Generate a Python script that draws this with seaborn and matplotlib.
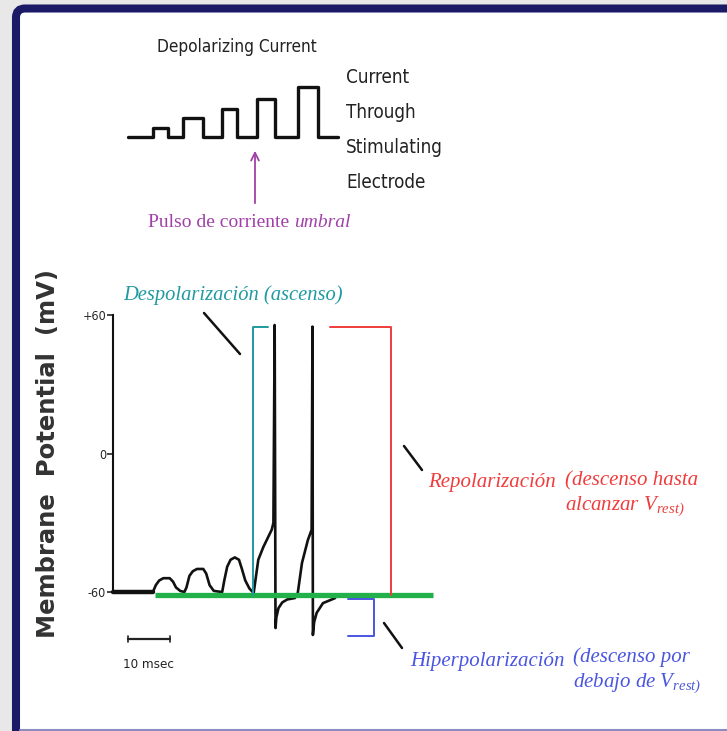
import numpy as np
import pandas as pd
import matplotlib
matplotlib.use("Agg")
import matplotlib.pyplot as plt
from matplotlib.patches import FancyBboxPatch
import seaborn as sns

# membrane potential recording (time in msec, potential in mV)
trace_t = [0, 9.5, 10.2, 11.0, 12.0, 13.5, 14.3, 15.0, 16.0, 17.0,
           17.5, 18.2, 19.0, 20.0, 21.5, 22.2, 23.0, 24.0, 26.0,
           26.5, 27.2, 28.0, 29.0, 30.0, 30.7, 31.5, 32.5, 33.5,
           34.6, 35.8, 37.8, 38.2, 38.5, 38.7, 38.9, 39.4, 40.3, 41.5, 43.3,
           44.0, 45.0, 46.4, 47.3, 47.5, 47.6, 47.9, 48.5, 50.0, 52.9]
trace_mv = [-60, -60, -57, -55, -54, -54, -55.5, -58, -59.5, -60,
            -58, -53, -51, -50, -50, -52, -57, -59.5, -60,
            -55, -49, -46, -45, -46, -50, -55, -58.5, -60.4,
            -46, -40.5, -33, -30, 55.7, -75.6, -71, -67, -64.5, -63.2, -62.6,
            -60.4, -47.4, -37.5, -33, 55, -78.6, -73, -69, -64.8, -62.6]

# stimulating current pulses (msec, arbitrary units)
pulse_start = [9.5, 16.7, 26.0, 34.3, 44.0]
pulse_end = [13.1, 21.4, 29.5, 38.6, 48.8]
pulse_amp = [0.95, 1.95, 2.85, 3.85, 5.0]
stim_span = [3.6, 53.6]

# annotations in data units
rest_mv = -61.3
rest_span = [10.0, 76.2]
bracket_top = 54.8
depol_t = [33.3, 36.9]
repol_t = [51.7, 66.2]
hyper_t = [56.0, 62.1]
hyper_mv = [-63.0, -79.0]
scale_t = [3.6, 13.6]
scale_mv = -80.4

yticks = [-60, 0, 60]
ytick_labels = ["-60", "0", "+60"]

W, H = 727, 731
sns.set_style("white")
plt.rcParams["font.family"] = ["DejaVu Sans"]
plt.rcParams["mathtext.fontset"] = "custom"
plt.rcParams["mathtext.rm"] = "Liberation Serif:italic"
plt.rcParams["mathtext.it"] = "Liberation Serif:italic"

fig = plt.figure(figsize=(W / 100, H / 100), dpi=100)
fig.patch.set_facecolor("#e8e8e8")

# background / frame, pixel coordinates
bg = fig.add_axes([0, 0, 1, 1])
bg.set_xlim(0, W)
bg.set_ylim(H, 0)
bg.axis("off")
frame = FancyBboxPatch((16, 8.5), 800, 800, boxstyle="round,pad=0,rounding_size=9",
                       fc="white", ec="#1b1a66", lw=5.8)
bg.add_patch(frame)
bg.plot([20, W], [730, 730], color="#8c8cc0", lw=1.5)

# stimulus axes
cur = fig.add_axes([0, 0, 1, 1])
cur.set_xlim(-26.9, 146.2)
cur.set_ylim(-59.4, 13.7)
cur.axis("off")
st_t = [stim_span[0]]
st_a = [0]
for a, b, amp in zip(pulse_start, pulse_end, pulse_amp):
    st_t += [a, a, b, b]
    st_a += [0, amp, amp, 0]
st_t.append(stim_span[1])
st_a.append(0)
stim = pd.DataFrame({"t": st_t, "amp": st_a})
sns.lineplot(data=stim, x="t", y="amp", sort=False, estimator=None,
             color="#111111", lw=2.4, ax=cur)

# membrane potential axes
ax = fig.add_axes([0, 0, 1, 1])
ax.patch.set_alpha(0)
ax.set_xlim(-26.9, 146.2)
ax.set_ylim(-120.2, 196.5)
mem = pd.DataFrame({"t": trace_t, "mv": trace_mv})
sns.lineplot(data=mem, x="t", y="mv", sort=False, estimator=None,
             color="#111111", lw=1.9, ax=ax)
base = mem[mem["t"] <= 9.5]
sns.lineplot(data=base, x="t", y="mv", sort=False, estimator=None,
             color="#111111", lw=3.2, ax=ax)

for s in ["top", "right", "bottom"]:
    ax.spines[s].set_visible(False)
ax.spines["left"].set_position(("data", 0))
ax.spines["left"].set_bounds(-60, 60)
ax.spines["left"].set_linewidth(1.5)
ax.spines["left"].set_color("#111111")
ax.set_xticks([])
ax.set_yticks(yticks)
ax.set_yticklabels(ytick_labels, fontsize=9, fontstretch="condensed")
ax.tick_params(axis="y", direction="out", length=4, width=1.2, pad=1, left=True)
ax.set_xlabel("")
ax.set_ylabel("")

# resting line and brackets
ax.plot(rest_span, [rest_mv, rest_mv], color="#22b04a", lw=3.8, solid_capstyle="butt")
teal = "#1f9aa0"
red = "#f03c3c"
blue = "#4a55e0"
ax.plot([depol_t[1], depol_t[0], depol_t[0]], [bracket_top, bracket_top, rest_mv],
        color=teal, lw=1.4)
ax.plot([repol_t[0], repol_t[1], repol_t[1]], [bracket_top, bracket_top, rest_mv],
        color=red, lw=1.4)
ax.plot([hyper_t[0], hyper_t[1], hyper_t[1], hyper_t[0]],
        [hyper_mv[0], hyper_mv[0], hyper_mv[1], hyper_mv[1]], color=blue, lw=1.4)

# 10 msec scale bar
ax.plot(scale_t, [scale_mv, scale_mv], color="#222222", lw=1.6)
for tt in scale_t:
    ax.plot([tt, tt], [scale_mv - 1.3, scale_mv + 1.3], color="#222222", lw=1.2)

# hand-drawn pointer strokes (pixel coords)
for (x0, y0, x1, y1) in [(204, 313, 240, 354), (404, 446, 422, 470), (384, 623, 402, 648)]:
    bg.plot([x0, x1], [y0, y1], color="#111111", lw=1.8, solid_capstyle="round", zorder=5)
bg.annotate("", xy=(255, 148), xytext=(255, 206),
            arrowprops=dict(arrowstyle="->", color="#a040a8", lw=1.3, mutation_scale=14))

# texts
serif = ["Liberation Serif", "DejaVu Serif"]
bg.text(157, 52, "Depolarizing Current", fontsize=12.3, fontstretch="condensed",
        color="#222222")
for i, w in enumerate(["Current", "Through", "Stimulating", "Electrode"]):
    bg.text(346, 83 + 35 * i, w, fontsize=13.5, fontstretch="condensed", color="#222222")
t1 = bg.text(148, 227, "Pulso de corriente ", fontsize=14, family=serif, color="#a040a8")
bg.annotate("umbral", xy=(1, 0), xycoords=t1, va="bottom", fontsize=14,
            family=serif, style="italic", color="#a040a8")
bg.text(48, 454, "Membrane  Potential  (mV)", rotation=90, ha="center", va="center",
        fontsize=17.5, fontweight="semibold", color="#333333")
bg.text(148, 668, "10 msec", ha="center", fontsize=9.5, fontstretch="condensed",
        color="#222222")

bg.text(123, 300, "Despolarización (ascenso)", fontsize=14.8, family=serif,
        style="italic", color=teal)
bg.text(428, 487, "Repolarización", fontsize=15, family=serif, style="italic", color=red)
bg.text(565, 485, "(descenso hasta", fontsize=15, family=serif, style="italic", color=red)
bg.text(565, 510, r"alcanzar V$_{\mathrm{rest)}}$", fontsize=15, family=serif,
        style="italic", color=red)
bg.text(410, 666, "Hiperpolarización", fontsize=15, family=serif, style="italic", color=blue)
bg.text(573, 662, "(descenso por", fontsize=15, family=serif, style="italic", color=blue)
bg.text(573, 687, r"debajo de V$_{\mathrm{rest)}}$", fontsize=15, family=serif,
        style="italic", color=blue)

fig.savefig("out.png", dpi=100, facecolor=fig.get_facecolor())
